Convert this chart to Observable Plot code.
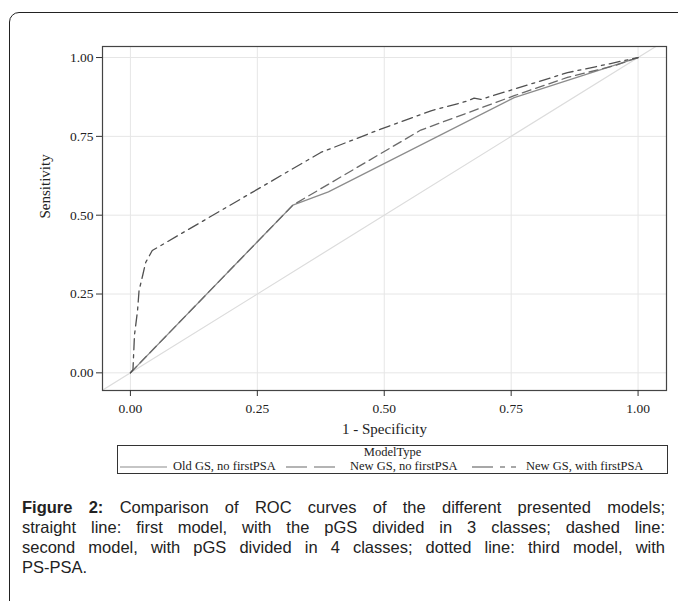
<!DOCTYPE html>
<html>
<head>
<meta charset="utf-8">
<script src="https://cdn.jsdelivr.net/npm/d3@7"></script>
<script src="https://cdn.jsdelivr.net/npm/@observablehq/plot@0.6"></script>
<style>
  html, body { margin: 0; padding: 0; background: #fff; }
  #page { position: relative; width: 678px; height: 601px; overflow: hidden; }
  #frame { position: absolute; left: 9px; top: 12px; width: 720px; height: 640px;
           border: 1.5px solid #222; border-radius: 10px; box-sizing: border-box; }
  #chart { position: absolute; left: 0; top: 0; }
  #legend { position: absolute; left: 117px; top: 445px; width: 551px; height: 29px;
            border: 1px solid #333; box-sizing: border-box; font-family: "Liberation Serif", serif;
            color: #222; }
  #legend .title { position: absolute; left: 50%; transform: translateX(-50%); top: 0px; font-size: 12.5px; line-height: 13px; white-space: nowrap; }
  #legend .item { position: absolute; top: 14px; font-size: 12.5px; line-height: 13px; white-space: nowrap; }
  #legend svg { position: absolute; top: 19px; }
  #caption { position: absolute; left: 22px; top: 497px; width: 643px;
             font-family: "Liberation Sans", Arial, sans-serif; font-size: 16.5px; color: #222; line-height: 20px; }
  #caption div { text-align: justify; text-align-last: justify; white-space: nowrap; }
  #caption div.last { text-align-last: left; }
</style>
</head>
<body>
<div id="page">
  <div id="frame"></div>
  <div id="chart"></div>
  <div id="legend">
    <div class="title">ModelType</div>
  </div>
  <div id="caption">
    <div><b>Figure 2:</b> Comparison of ROC curves of the different presented models;</div>
    <div>straight line: first model, with the pGS divided in 3 classes; dashed line:</div>
    <div>second model, with pGS divided in 4 classes; dotted line: third model, with</div>
    <div class="last">PS-PSA.</div>
  </div>
</div>
<script>
// ---- data ----
const modelNames = ["Old GS, no firstPSA", "New GS, no firstPSA", "New GS, with firstPSA"];

const oldFpr = [0, 0.32, 0.39, 0.756, 1];
const oldTpr = [0, 0.532, 0.574, 0.873, 1];

const newFpr = [0, 0.32, 0.572, 0.756, 0.861, 0.953, 1];
const newTpr = [0, 0.532, 0.770, 0.879, 0.937, 0.974, 1];

const psaFpr = [0, 0.005, 0.008, 0.014, 0.017, 0.024, 0.030, 0.043, 0.375, 0.493, 0.592, 0.664, 0.677, 0.690, 0.861, 0.946, 1];
const psaTpr = [0, 0.010, 0.120, 0.197, 0.261, 0.308, 0.350, 0.388, 0.699, 0.773, 0.831, 0.862, 0.871, 0.867, 0.952, 0.981, 1];

const chance = [-0.1, 1.1];
const ticks = [0, 0.25, 0.5, 0.75, 1];
const tickLabels = ["0.00", "0.25", "0.50", "0.75", "1.00"];
const xLabel = "1 - Specificity";
const yLabel = "Sensitivity";

// styles per model
const strokes = ["#8c8c8c", "#6a6a6a", "#505050"];
const dashes = [null, "9,5", "11,5,3,5"];
const legendDashes = [null, "21,7", "21,7,5,6,5,6"];

const series = [
  oldFpr.map((x, i) => ({x, y: oldTpr[i]})),
  newFpr.map((x, i) => ({x, y: newTpr[i]})),
  psaFpr.map((x, i) => ({x, y: psaTpr[i]}))
];

const fmt = d => tickLabels[ticks.indexOf(d)];

const plot = Plot.plot({
  width: 678,
  height: 445,
  marginLeft: 102,
  marginRight: 12,
  marginTop: 46,
  marginBottom: 55,
  style: { fontFamily: "Liberation Serif, serif", fontSize: "13.5px", color: "#333", background: "transparent" },
  x: { domain: [-0.055, 1.056], ticks, tickFormat: fmt },
  y: { domain: [-0.056, 1.035], ticks, tickFormat: fmt },
  marks: [
    Plot.gridX(ticks, { stroke: "#e6e6e6", strokeOpacity: 1 }),
    Plot.gridY(ticks, { stroke: "#e6e6e6", strokeOpacity: 1 }),
    Plot.line(chance.map(v => ({x: v, y: v})), { x: "x", y: "y", stroke: "#dcdcdc", strokeWidth: 1.2, clip: true }),
    ...series.map((s, i) => Plot.line(s, {
      x: "x", y: "y", stroke: strokes[i], strokeWidth: 1.3,
      strokeDasharray: dashes[i] || undefined, curve: "linear"
    })),
    Plot.frame({ stroke: "#444", strokeWidth: 1.2 }),
    Plot.axisX({ ticks, tickFormat: fmt, tickSize: 6, tickPadding: 7, label: null, stroke: "#333", fontSize: 13.5, fill: "#222" }),
    Plot.axisY({ ticks, tickFormat: fmt, tickSize: 6, tickPadding: 3, label: null, stroke: "#333", fontSize: 13.5, fill: "#222" }),
    Plot.text([xLabel], { frameAnchor: "bottom", dy: 43, text: d => d, fontSize: 15, fill: "#222" }),
    Plot.text([yLabel], { frameAnchor: "left", dx: -57, rotate: -90, text: d => d, fontSize: 15, fill: "#222" })
  ]
});
document.getElementById("chart").appendChild(plot);

// legend (positions relative to the legend box)
const legend = document.getElementById("legend");
const sampleX = [2, 168, 354];
const sampleW = [47, 56, 48];
const textX = [55, 232, 408];
modelNames.forEach((name, i) => {
  const svg = d3.create("svg").attr("width", sampleW[i]).attr("height", 4)
    .style("left", sampleX[i] + "px");
  svg.append("line").attr("x1", 0).attr("x2", sampleW[i]).attr("y1", 2).attr("y2", 2)
    .attr("stroke", strokes[i]).attr("stroke-width", 1.2)
    .attr("stroke-dasharray", legendDashes[i]);
  legend.appendChild(svg.node());
  const sp = document.createElement("div");
  sp.className = "item";
  sp.style.left = textX[i] + "px";
  sp.textContent = name;
  legend.appendChild(sp);
});
</script>
</body>
</html>
